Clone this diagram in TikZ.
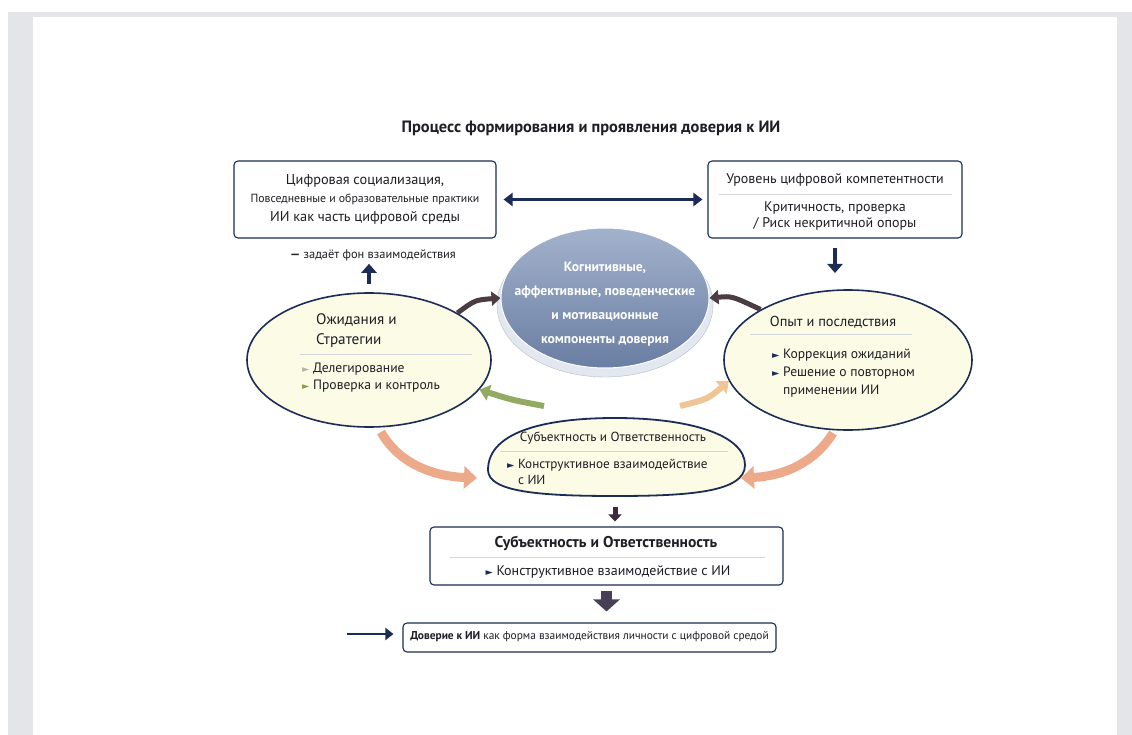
\documentclass[tikz,border=0pt]{standalone}
\usepackage{fontspec}
\setmainfont{PT Sans}
\newfontfamily\symfont{DejaVu Sans}
\usetikzlibrary{shapes.geometric,arrows.meta}

\definecolor{navy}{HTML}{1B2D57}
\definecolor{ink}{HTML}{1E1E24}
\definecolor{cream}{HTML}{FBFBE6}
\definecolor{framegray}{HTML}{E4E5E9}
\definecolor{sepgray}{HTML}{D3D6DC}
\definecolor{coretop}{HTML}{A3B2CC}
\definecolor{corebot}{HTML}{6A7EA3}
\definecolor{rimblue}{HTML}{E3E7EF}
\definecolor{rimline}{HTML}{B4BDCD}
\definecolor{darkbrown}{HTML}{4B3C42}
\definecolor{leafgreen}{HTML}{93AA62}
\definecolor{peach}{HTML}{F0C596}
\definecolor{salmon}{HTML}{EDAA8B}
\definecolor{plum}{HTML}{3B2A3A}
\definecolor{slate}{HTML}{463F55}
\definecolor{bulletgray}{HTML}{B3B9A6}
\definecolor{bulletgreen}{HTML}{86A04C}

\newcommand\bult[1]{{\color{#1}\symfont\fontsize{9.5}{9.5}\selectfont ►}}

\begin{document}
\begin{tikzpicture}[x=1pt,y=-1pt,
	box/.style={draw=navy, line width=1.1pt, rounded corners=4pt, fill=white},
	oval/.style={ellipse, draw=navy, line width=1.6pt, fill=cream},
	txt/.style={font=\fontsize{13.6}{18}\selectfont, text=ink, inner sep=0pt},
	sep/.style={draw=sepgray, line width=0.8pt},
	navyarrow/.style={navy, line width=2.6pt, -{Triangle[length=8pt,width=12pt]}},
	thickarrow/.style={navy, line width=4pt, -{Triangle[length=9pt,width=15pt]}},
	swoosh/.style={line width=9pt, -{Triangle[length=13pt,width=22pt]}},
	darrow/.style={draw=darkbrown, line width=5pt, -{Triangle[length=9pt,width=14pt]}}]

	% Frame
	\useasboundingbox (0,0) rectangle (1132,735);
	\fill[white] (0,0) rectangle (1132,735);
	\fill[framegray] (8,12) rectangle (1132,735);
	\fill[white] (33,17) rectangle (1117,735);

	% Title
	\node[font=\bfseries\fontsize{16.4}{18}\selectfont, text=ink] (title) at (591,128)
		{Процесс формирования и проявления доверия к ИИ};

	% Top boxes
	\node[box, minimum width=262pt, minimum height=77pt] (social) at (365,199.5) {};
	\node[txt, font=\fontsize{14.3}{18.5}\selectfont, align=center] (socialtxt) at (365,199)
		{Цифровая социализация,\\{\fontsize{11.8}{18.5}\selectfont Повседневные и образовательные практики}\\ИИ как часть цифровой среды};
	\node[box, minimum width=254pt, minimum height=77pt] (skill) at (835,199.5) {};
	\node[txt, font=\fontsize{14}{18}\selectfont] (skilltitle) at (835,180) {Уровень цифровой компетентности};
	\draw[sep] (719,194) -- (952,194);
	\node[txt, font=\fontsize{14}{16.5}\selectfont, align=center] (skilltxt) at (835,216)
		{Критичность, проверка\\/ Риск некритичной опоры};
	\draw[navy, line width=2.8pt, {Triangle[length=9pt,width=13pt]}-{Triangle[length=9pt,width=13pt]},
		shorten <=7pt, shorten >=5pt] (social.east) -- (skill.west);

	\node[txt, font=\fontsize{12.4}{14}\selectfont] (note) at (373,255) {\textbf{—} задаёт фон взаимодействия};
	\coordinate (skillend) at (835,273);
	\draw[thickarrow, shorten <=9pt] (skill.south) -- (skillend);

	% Central ellipse
	\fill[rimblue, draw=rimline] (605,305) ellipse [x radius=108, y radius=72];
	\node[ellipse, minimum width=208pt, minimum height=140pt, top color=coretop, bottom color=corebot,
		draw=white, line width=1pt] (core) at (605,298) {};
	\node[font=\bfseries\fontsize{13.6}{24}\selectfont, text=white, align=center] (coretxt) at (605,304)
		{Когнитивные,\\аффективные, поведенческие\\и мотивационные\\компоненты доверия};

	% Left ellipse
	\node[oval, minimum width=244pt, minimum height=134pt] (expect) at (369,360) {};
	\node[txt, font=\fontsize{15.2}{20}\selectfont, align=left, anchor=west] (expecttitle) at (316,331)
		{Ожидания и\\Стратегии};
	\draw[sep] (300,354) -- (472,354);
	\node[txt, anchor=west] (deleg) at (302,369) {\bult{bulletgray} Делегирование};
	\node[txt, anchor=west] (control) at (302,386) {\bult{bulletgreen} Проверка и контроль};
	\draw[thickarrow, shorten <=8pt, shorten >=3pt] (expect.north) -- (expect.north |- note.south);

	% Right ellipse
	\node[oval, minimum width=248pt, minimum height=140pt] (outcome) at (848,360) {};
	\node[txt, font=\fontsize{14.4}{19}\selectfont] (outcometitle) at (833,322) {Опыт и последствия};
	\draw[sep] (750,334) -- (912,334);
	\node[txt, anchor=west] (correct) at (772,355) {\bult{navy} Коррекция ожиданий};
	\node[txt, anchor=west, align=left] (reuse) at (772,382)
		{\bult{navy} Решение о повторном\\\phantom{\bult{navy}} применении ИИ};

	% Bottom oval
	\draw[fill=cream, draw=navy, line width=1.8pt] (488,470)
		.. controls (488,430) and (550,418) .. (615,418)
		.. controls (690,418) and (745,435) .. (745,465)
		.. controls (745,492) and (690,496) .. (615,496)
		.. controls (540,496) and (488,492) .. (488,470) -- cycle;
	\node[txt, font=\fontsize{13.2}{18}\selectfont] (agencytitle) at (613,438) {Субъектность и Ответственность};
	\draw[sep] (500,451) -- (728,451);
	\node[txt, font=\fontsize{13.2}{16}\selectfont, anchor=west, align=left] (agencyitem) at (507,472)
		{\bult{navy} Конструктивное взаимодействие\\\phantom{\bult{navy}} с ИИ};

	% Curved arrows
	\coordinate (blobnw) at (544,406);
	\coordinate (blobne) at (680,406);
	\coordinate (expectbot) at (381,432);
	\coordinate (blobw) at (477,478);
	\coordinate (outcomebot) at (833,433);
	\coordinate (blobe) at (741,478);
	\draw[darrow] (expect.28) .. controls (475,300) .. (core.180);
	\draw[darrow] (outcome.150) .. controls (732,296) .. (core.0);
	\draw[swoosh, draw=leafgreen, line width=6pt, -{Triangle[length=10pt,width=16pt]}]
		(blobnw) .. controls (512,400) .. (expect.-15);
	\draw[swoosh, draw=peach, line width=6pt, -{Triangle[length=10pt,width=16pt]}]
		(blobne) .. controls (708,399) .. (outcome.190);
	\draw[swoosh, draw=salmon] (expectbot) .. controls (398,462) and (430,476) .. (blobw);
	\draw[swoosh, draw=salmon] (outcomebot) .. controls (815,462) and (785,476) .. (blobe);

	% Lower boxes
	\node[box, minimum width=353pt, minimum height=58pt] (agency) at (606.5,556) {};
	\node[txt, font=\bfseries\fontsize{15.6}{18}\selectfont] (agencyboxtitle) at (606,543) {Субъектность и Ответственность};
	\draw[sep] (450,557) -- (765,557);
	\node[txt, font=\fontsize{14}{16}\selectfont] (agencyboxitem) at (608,572) {\bult{navy} Конструктивное взаимодействие с ИИ};
	\coordinate (blobbot) at (615,496);
	\draw[draw=plum, line width=5pt, -{Triangle[length=7pt,width=13pt]}, shorten <=11pt, shorten >=5pt]
		(blobbot) -- (agency.north -| blobbot);

	\node[box, minimum width=373pt, minimum height=29pt] (trust) at (589.5,637.5) {};
	\node[txt, font=\fontsize{11.4}{14}\selectfont] (trusttxt) at (589.5,637)
		{\textbf{Доверие к ИИ} как форма взаимодействия личности с цифровой средой};
	\draw[draw=slate, line width=11pt, -{Triangle[length=12pt,width=26pt]}, shorten <=5pt, shorten >=11pt]
		(agency.south) -- (agency.south |- trust.north);
	\coordinate (trustin) at (347,634);
	\draw[navyarrow, shorten >=9pt] (trustin) -- (trust.west |- trustin);
\end{tikzpicture}
\end{document}
